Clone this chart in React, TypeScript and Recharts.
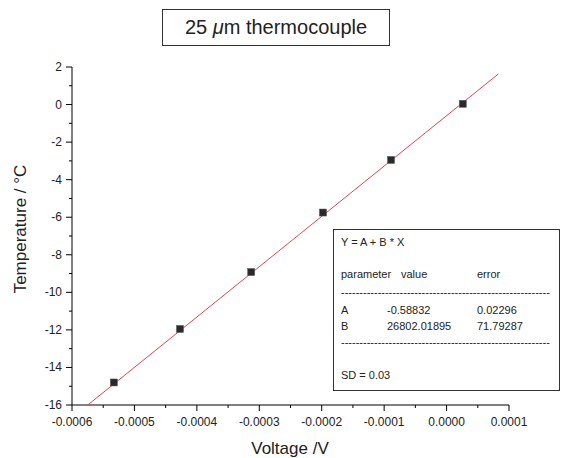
import { ScatterChart, Scatter, XAxis, YAxis } from "recharts";

// measured calibration points
const voltage = [-0.000533, -0.000427, -0.000313, -0.000198, -0.000089, 0.000026];
const temperature = [-14.8, -11.95, -8.92, -5.75, -2.95, 0.04];

// ends of the linear fit drawn across the plot
const fitVoltage = [-0.000586, 0.000083];
const fitTemperature = [-16.3, 1.63];

const xMajorTicks = [-0.0006, -0.0005, -0.0004, -0.0003, -0.0002, -0.0001, 0, 0.0001];
const xMinorTicks = [-0.00055, -0.00045, -0.00035, -0.00025, -0.00015, -0.00005, 0.00005];
const yMajorTicks = [-16, -14, -12, -10, -8, -6, -4, -2, 0, 2];
const yMinorTicks = [-15, -13, -11, -9, -7, -5, -3, -1, 1];

const fitRows = [
  ["A", "-0.58832", "0.02296"],
  ["B", "26802.01895", "71.79287"],
];

const points = voltage.map((x, i) => ({ x, y: temperature[i] }));
const fitLine = fitVoltage.map((x, i) => ({ x, y: fitTemperature[i] }));

const FONT = "'Liberation Sans', Arial, sans-serif";

const isXMajor = (v: number) => Math.abs(v * 10000 - Math.round(v * 10000)) < 1e-6;

const XTick = (props: any) => {
  const { x, y, payload } = props;
  const major = isXMajor(payload.value);
  return (
    <g>
      <line x1={x} x2={x} y1={y} y2={y + (major ? 6 : 3)} stroke="#000" />
      {major && (
        <text x={x} y={y + 21} textAnchor="middle" fontSize={12} fill="#222" fontFamily={FONT}>
          {payload.value.toFixed(4)}
        </text>
      )}
    </g>
  );
};

const YTick = (props: any) => {
  const { x, y, payload } = props;
  const major = payload.value % 2 === 0;
  return (
    <g>
      <line x1={x} x2={x - (major ? 6 : 3)} y1={y} y2={y} stroke="#000" />
      {major && (
        <text x={x - 10} y={y + 4} textAnchor="end" fontSize={12} fill="#222" fontFamily={FONT}>
          {payload.value}
        </text>
      )}
    </g>
  );
};

const Square = (props: any) => {
  const { cx, cy } = props;
  return <rect x={cx - 3.5} y={cy - 3.5} width={7} height={7} fill="#2a2a2a" stroke="#555" strokeWidth={0.5} />;
};

const boxText: React.CSSProperties = {
  position: "absolute",
  fontSize: 11,
  color: "#222",
  whiteSpace: "pre",
  lineHeight: "11px",
};

export default function App() {
  return (
    <div style={{ position: "absolute", left: 0, top: 0, width: 567, height: 458, fontFamily: FONT, background: "#fff" }}>
      <ScatterChart width={567} height={458} margin={{ top: 67, right: 58, bottom: 52, left: 71 }}>
        <XAxis
          type="number"
          dataKey="x"
          domain={[-0.0006, 0.0001]}
          ticks={[...xMajorTicks, ...xMinorTicks].sort((a, b) => a - b)}
          interval={0}
          height={1}
          tickSize={0}
          tickMargin={0}
          tickLine={false}
          tick={<XTick />}
          stroke="#000"
          allowDataOverflow
        />
        <YAxis
          type="number"
          dataKey="y"
          domain={[-16, 2]}
          ticks={[...yMajorTicks, ...yMinorTicks].sort((a, b) => a - b)}
          interval={0}
          width={1}
          tickSize={0}
          tickMargin={0}
          tickLine={false}
          tick={<YTick />}
          stroke="#000"
          allowDataOverflow
        />
        <Scatter
          data={fitLine}
          line={{ stroke: "#e8434b", strokeWidth: 1 }}
          shape={() => <g />}
          isAnimationActive={false}
        />
        <Scatter data={points} shape={<Square />} isAnimationActive={false} />
      </ScatterChart>

      <div
        style={{
          position: "absolute",
          left: 162,
          top: 9,
          width: 226,
          height: 35,
          border: "1px solid #333",
          fontSize: 20,
          lineHeight: "35px",
          textAlign: "center",
          color: "#222",
        }}
      >
        25 <i>μ</i>m thermocouple
      </div>

      <div
        style={{
          position: "absolute",
          left: 0,
          top: 440,
          width: 580,
          textAlign: "center",
          fontSize: 17,
          lineHeight: "17px",
          color: "#222",
        }}
      >
        Voltage /V
      </div>

      <div
        style={{
          position: "absolute",
          left: 21,
          top: 229,
          transform: "translate(-50%, -50%) rotate(-90deg)",
          fontSize: 17,
          color: "#222",
          whiteSpace: "nowrap",
        }}
      >
        Temperature / °C
      </div>

      <div
        style={{
          position: "absolute",
          left: 333,
          top: 229,
          width: 225,
          height: 160,
          border: "1px solid #333",
          background: "#fff",
        }}
      >
        <div style={{ ...boxText, left: 7, top: 7 }}>Y = A + B * X</div>
        <div style={{ ...boxText, left: 7, top: 39 }}>parameter</div>
        <div style={{ ...boxText, left: 67, top: 39 }}>value</div>
        <div style={{ ...boxText, left: 143, top: 39 }}>error</div>
        <div style={{ ...boxText, left: 7, top: 57 }}>{"-".repeat(57)}</div>
        {fitRows.map((row, i) => (
          <div key={row[0]}>
            <div style={{ ...boxText, left: 7, top: 75 + i * 16 }}>{row[0]}</div>
            <div style={{ ...boxText, left: 53, top: 75 + i * 16 }}>{row[1]}</div>
            <div style={{ ...boxText, left: 143, top: 75 + i * 16 }}>{row[2]}</div>
          </div>
        ))}
        <div style={{ ...boxText, left: 7, top: 107 }}>{"-".repeat(57)}</div>
        <div style={{ ...boxText, left: 7, top: 140 }}>SD = 0.03</div>
      </div>
    </div>
  );
}
